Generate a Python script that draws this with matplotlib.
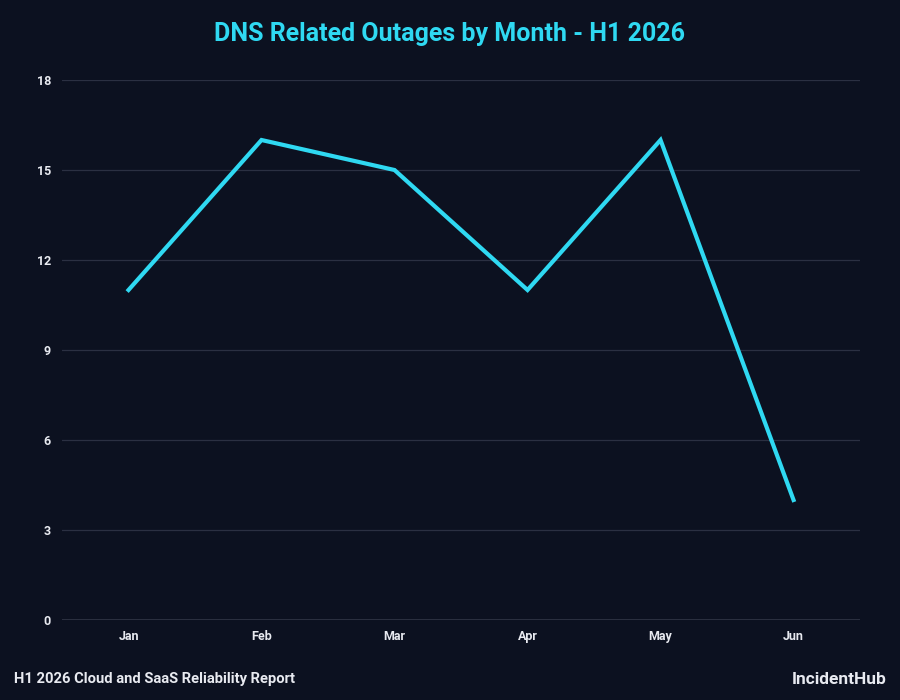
import matplotlib
matplotlib.use("Agg")
import matplotlib.pyplot as plt

months = ["Jan", "Feb", "Mar", "Apr", "May", "Jun"]
outages = [11, 16, 15, 11, 16, 4]
yticks = [0, 3, 6, 9, 12, 15, 18]

BG = "#0c1120"
CYAN = "#2fd9f2"
TXT = "#e8eaf0"

plt.rcParams['font.family'] = ['Roboto', 'DejaVu Sans']

fig = plt.figure(figsize=(9, 7), dpi=100, facecolor=BG)
ax = fig.add_axes([0.0689, 0.1143, 0.8867, 0.7714], facecolor=BG)

x = list(range(len(months)))
ax.plot(x, outages, color=CYAN, lw=3, solid_joinstyle='miter', zorder=3)

ax.set_xlim(-0.5, len(months) - 0.5)
ax.set_ylim(0, 18)
ax.set_yticks(yticks)
ax.set_yticklabels([str(v) for v in yticks])
ax.set_xticks(x)
ax.set_xticklabels(months)

for v in yticks[1:]:
    ax.axhline(v, color="#2b3042", lw=0.9, zorder=1)
ax.axhline(0, color="#a9afbf", lw=1.0, zorder=2)

for s in ax.spines.values():
    s.set_visible(False)
ax.tick_params(axis='both', length=0, colors=TXT, labelsize=9)
ax.tick_params(axis='y', pad=8)
ax.tick_params(axis='x', pad=7)
for lab in ax.get_xticklabels() + ax.get_yticklabels():
    lab.set_fontweight('bold')

fig.text(0.5, 0.951, "DNS Related Outages by Month - H1 2026", ha='center', va='center',
         color=CYAN, fontsize=18, fontweight='bold')
fig.text(0.0155, 0.030, "H1 2026 Cloud and SaaS Reliability Report", ha='left', va='center',
         color=TXT, fontsize=10.6, fontweight='bold')
fig.text(0.985, 0.030, "IncidentHub", ha='right', va='center',
         color=TXT, fontsize=12.5, fontweight='bold')

fig.savefig("out.png", dpi=100, facecolor=BG)
